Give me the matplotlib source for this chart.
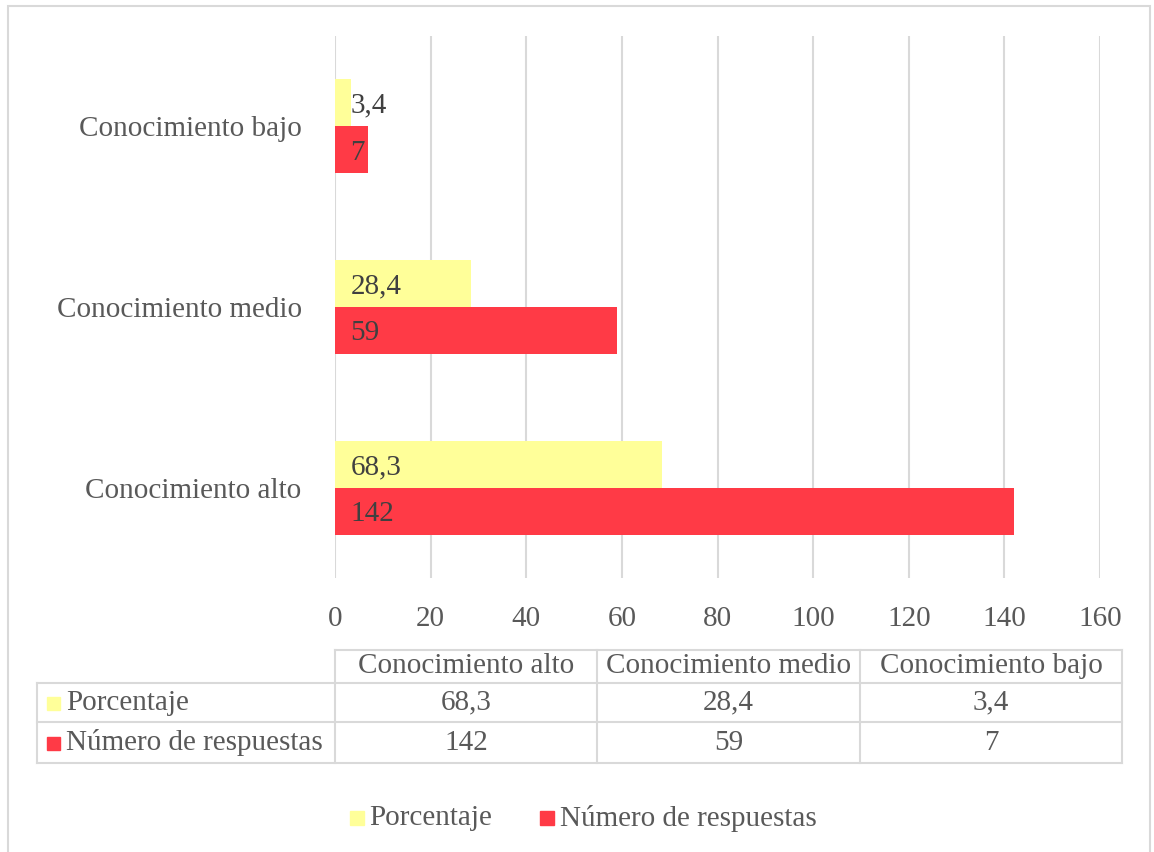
import matplotlib.pyplot as plt
from matplotlib.lines import Line2D
from matplotlib.patches import Rectangle

# datos
categorias = ['Conocimiento alto', 'Conocimiento medio', 'Conocimiento bajo']
porcentaje = [68.3, 28.4, 3.4]
respuestas = [142, 59, 7]
series = ['Porcentaje', 'Número de respuestas']
etiq_porc = ['68,3', '28,4', '3,4']
etiq_resp = ['142', '59', '7']
xticks = [0, 20, 40, 60, 80, 100, 120, 140, 160]

AMARILLO = '#FFFF99'
ROJO = '#FF3A46'
GRIS = '#595959'
OSCURO = '#404040'
LINEA = '#D9D9D9'

plt.rcParams['font.family'] = ['Liberation Serif', 'DejaVu Serif']

W, H = 1154, 852
fig = plt.figure(figsize=(W / 100, H / 100), dpi=100)


def px(x, y):
    return x / W, 1 - y / H


# marco exterior
fig.add_artist(Rectangle(px(8, 860), (1150 - 8) / W, (860 - 6) / H,
                         fill=False, edgecolor=LINEA, linewidth=1.5))

x0, y0 = px(335, 578)
ax = fig.add_axes([x0, y0, 765 / W, 542 / H])

pos = list(range(len(categorias)))
alto = 0.26
ax.barh([p + alto / 2 for p in pos], porcentaje, height=alto, color=AMARILLO, zorder=3)
ax.barh([p - alto / 2 for p in pos], respuestas, height=alto, color=ROJO, zorder=3)

for p, t in zip(pos, etiq_porc):
    ax.annotate(t, (0, p + alto / 2), xytext=(11, -2), textcoords='offset points',
                va='center', ha='left', fontsize=21, color=OSCURO, zorder=4)
for p, t in zip(pos, etiq_resp):
    ax.annotate(t, (0, p - alto / 2), xytext=(11, -2), textcoords='offset points',
                va='center', ha='left', fontsize=21, color=OSCURO, zorder=4)

ax.set_xlim(0, 160)
ax.set_ylim(-0.5, 2.5)
ax.set_xticks(xticks)
ax.set_xticklabels([str(t) for t in xticks])
ax.set_yticks(pos)
ax.set_yticklabels(categorias)
ax.tick_params(axis='both', length=0, labelsize=21, labelcolor=GRIS)
ax.tick_params(axis='x', pad=20)
ax.tick_params(axis='y', pad=24)
ax.grid(axis='x', color=LINEA, linewidth=1.5, zorder=0)
for s in ax.spines.values():
    s.set_visible(False)

# tabla de datos
cols = [335, 597, 860, 1122]
filas = [650, 683, 722, 763]


def linea(xa, ya, xb, yb):
    (a, b), (c, d) = px(xa, ya), px(xb, yb)
    fig.add_artist(Line2D([a, c], [b, d], color=LINEA, linewidth=1.5))


linea(335, 650, 1122, 650)
for y in filas[1:]:
    linea(37, y, 1122, y)
linea(37, 683, 37, 763)
for x in cols:
    linea(x, 650, x, 763)

for i, c in enumerate(categorias):
    fig.text(*px((cols[i] + cols[i + 1]) / 2, 666), c, ha='center', va='center',
             fontsize=21, color=GRIS)
valores = [etiq_porc, etiq_resp]
colores = [AMARILLO, ROJO]
for r in range(2):
    yc = (filas[r + 1] + filas[r + 2]) / 2
    fig.add_artist(Rectangle(px(47, yc + 7), 13 / W, 13 / H, color=colores[r]))
    fig.text(*px(66, yc), series[r], ha='left', va='center', fontsize=21, color=GRIS)
    for i in range(3):
        fig.text(*px((cols[i] + cols[i + 1]) / 2, yc), valores[r][i], ha='center',
                 va='center', fontsize=21, color=GRIS)

# leyenda
for xk, xt, nombre, col in [(350, 369, series[0], AMARILLO), (540, 560, series[1], ROJO)]:
    fig.add_artist(Rectangle(px(xk, 825), 14 / W, 14 / H, color=col))
    fig.text(*px(xt, 818), nombre, ha='left', va='center', fontsize=21, color=GRIS)

fig.savefig('out.png', dpi=100)
